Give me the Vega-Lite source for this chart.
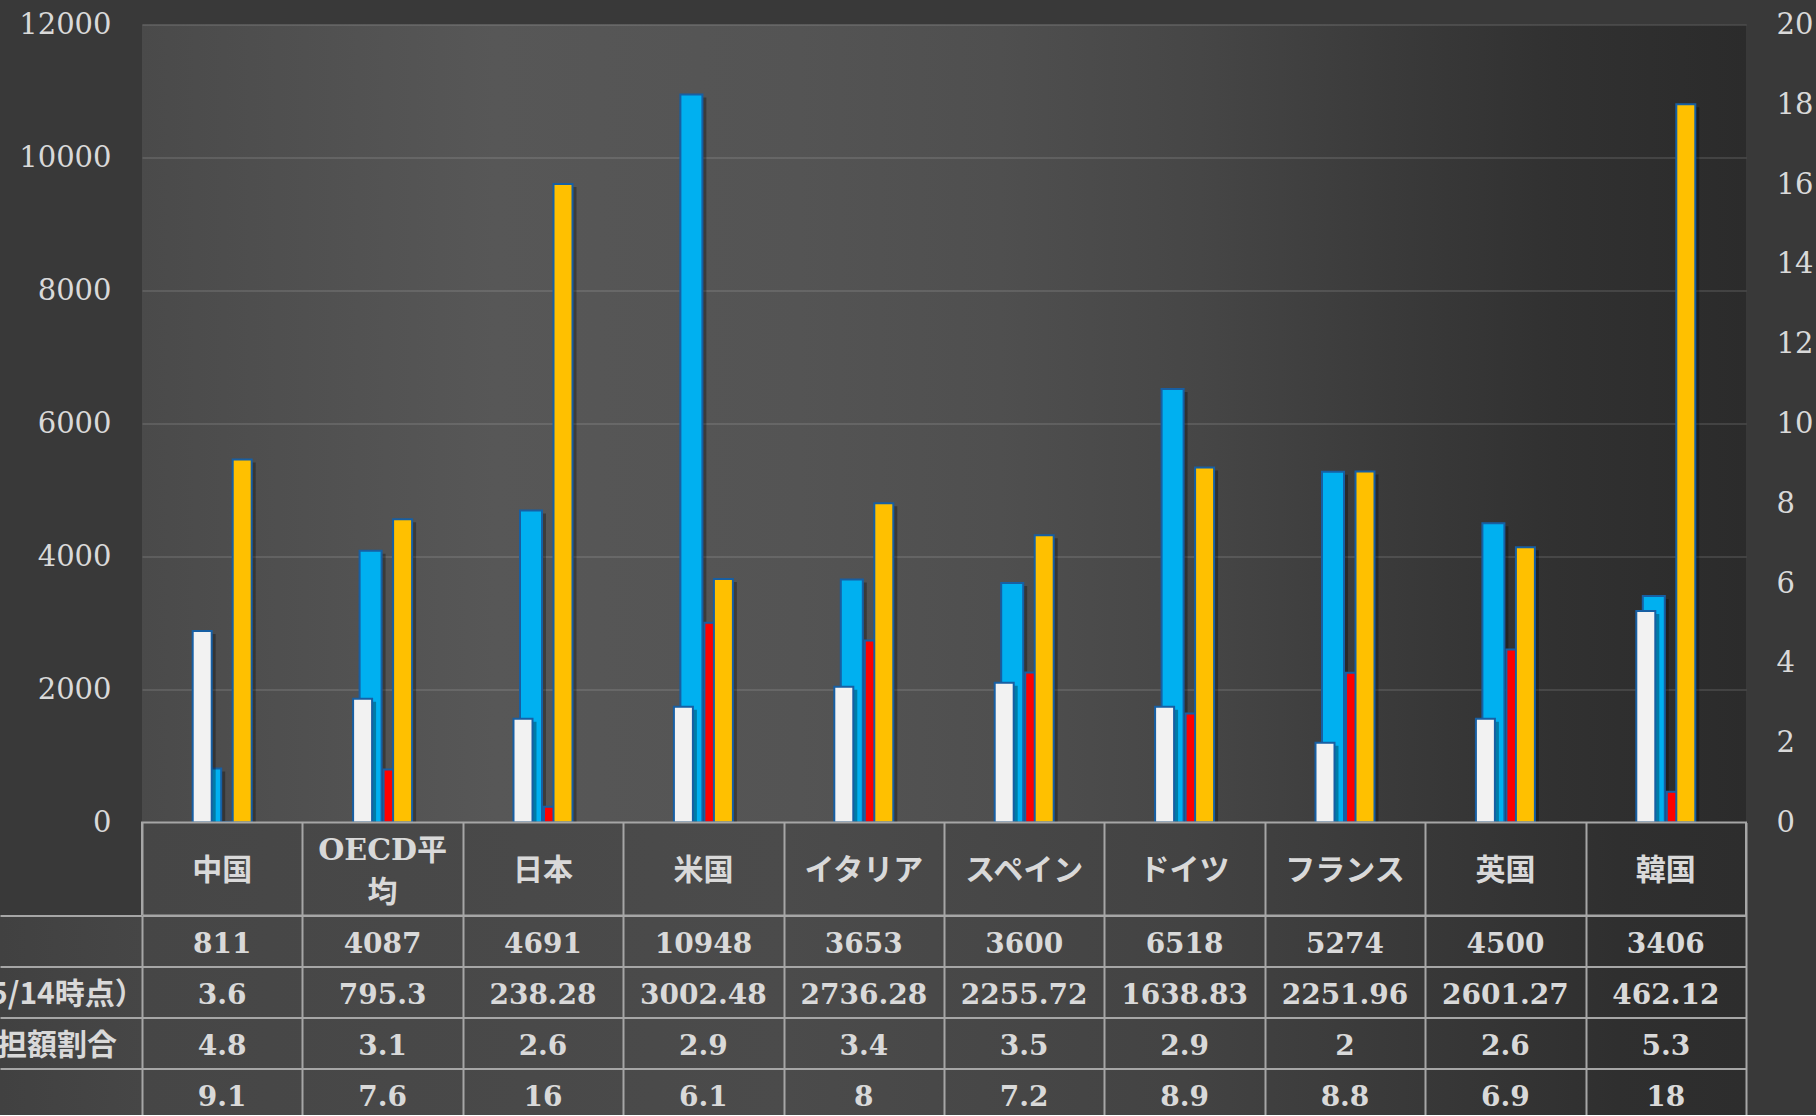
{
  "$schema": "https://vega.github.io/schema/vega-lite/v6.json",
  "autosize": {"type": "pad"},
  "padding": {"left": 0, "top": 10.5, "right": 3, "bottom": -5},
  "background": "#393939",
  "spacing": 0,
  "bounds": "flush",
  "columns": 2,
  "config": {
    "font": "DejaVu Serif",
    "view": {"stroke": null},
    "axis": {"labelFont": "DejaVu Serif", "labelColor": "#d9d9d9", "titleColor": "#d9d9d9"}
  },
  "datasets": {
    "t": [
      {"cat": "中国", "spend": 811, "deaths": 3.6, "burden": 4.8, "visits": 9.1},
      {"cat": "OECD平均", "spend": 4087, "deaths": 795.3, "burden": 3.1, "visits": 7.6},
      {"cat": "日本", "spend": 4691, "deaths": 238.28, "burden": 2.6, "visits": 16},
      {"cat": "米国", "spend": 10948, "deaths": 3002.48, "burden": 2.9, "visits": 6.1},
      {"cat": "イタリア", "spend": 3653, "deaths": 2736.28, "burden": 3.4, "visits": 8},
      {"cat": "スペイン", "spend": 3600, "deaths": 2255.72, "burden": 3.5, "visits": 7.2},
      {"cat": "ドイツ", "spend": 6518, "deaths": 1638.83, "burden": 2.9, "visits": 8.9},
      {"cat": "フランス", "spend": 5274, "deaths": 2251.96, "burden": 2, "visits": 8.8},
      {"cat": "英国", "spend": 4500, "deaths": 2601.27, "burden": 2.6, "visits": 6.9},
      {"cat": "韓国", "spend": 3406, "deaths": 462.12, "burden": 5.3, "visits": 18}
    ],
    "rows": [
      {"row": "spend", "label": "1人当たり医療費（ドル）"},
      {"row": "deaths", "label": "100万人当たり死者数（5/14時点）"},
      {"row": "burden", "label": "家計に占める医療費の負担額割合"},
      {"row": "visits", "label": "1人当たり年間受診回数"}
    ]
  },
  "data": {"name": "t"},
  "concat": [
    {
      "width": 142, "height": 798,
      "data": {"values": [{"s": ""}]},
      "mark": {"type": "text"},
      "encoding": {"text": {"field": "s", "type": "nominal"}}
    },
    {
      "width": 1604,
      "height": 798,
      "view": {
        "stroke": null,
        "fill": {
          "gradient": "linear", "x1": 0, "y1": 0, "x2": 1, "y2": 0,
          "stops": [
            {"offset": 0, "color": "#4a4a4a"},
            {"offset": 0.22, "color": "#575757"},
            {"offset": 0.41, "color": "#545454"},
            {"offset": 0.535, "color": "#4f4f4f"},
            {"offset": 0.66, "color": "#464646"},
            {"offset": 0.78, "color": "#3a3a3a"},
            {"offset": 0.88, "color": "#313131"},
            {"offset": 1, "color": "#2b2b2b"}
          ]
        }
      },
      "encoding": {
        "x": {"field": "cat", "type": "nominal", "axis": null,
              "sort": ["中国", "OECD平均", "日本", "米国", "イタリア", "スペイン", "ドイツ", "フランス", "英国", "韓国"],
              "scale": {"paddingInner": 0, "paddingOuter": 0}}
      },
      "layer": [
        {
          "mark": {"type": "bar", "width": 24, "xOffset": -9, "yOffset": 3, "fill": "#000000", "opacity": 0.3},
          "encoding": {"y": {"field": "spend", "type": "quantitative", "scale": {"domain": [0, 12000], "nice": false}, "axis": null}}
        },
        {
          "mark": {"type": "bar", "width": 24, "xOffset": 15, "yOffset": 3, "fill": "#000000", "opacity": 0.3},
          "encoding": {"y": {"field": "deaths", "type": "quantitative", "scale": {"domain": [0, 12000], "nice": false}, "axis": null}}
        },
        {
          "mark": {"type": "bar", "width": 22, "xOffset": -12, "fill": "#00B0F0", "stroke": "#175fa3", "strokeWidth": 2},
          "encoding": {"y": {"field": "spend", "type": "quantitative", "scale": {"domain": [0, 12000], "nice": false},
            "axis": {"orient": "left", "title": null, "values": [0, 2000, 4000, 6000, 8000, 10000, 12000], "format": "d",
                     "grid": true, "gridColor": "#ffffff", "gridOpacity": 0.11, "gridWidth": 2,
                     "domain": false, "ticks": false, "labelPadding": 31, "labelFontSize": 29,
                     "labelColor": "#d9d9d9", "labelFont": "DejaVu Serif"}}}
        },
        {
          "mark": {"type": "bar", "width": 22, "xOffset": 12, "fill": "#FF0000", "stroke": "#175fa3", "strokeWidth": 2},
          "encoding": {"y": {"field": "deaths", "type": "quantitative", "scale": {"domain": [0, 12000], "nice": false}, "axis": null}}
        },
        {
          "mark": {"type": "bar", "width": 21, "xOffset": -17, "yOffset": 3, "fill": "#000000", "opacity": 0.3},
          "encoding": {"y": {"field": "burden", "type": "quantitative", "scale": {"domain": [0, 20], "nice": false}, "axis": null}}
        },
        {
          "mark": {"type": "bar", "width": 21, "xOffset": 23, "yOffset": 3, "fill": "#000000", "opacity": 0.3},
          "encoding": {"y": {"field": "visits", "type": "quantitative", "scale": {"domain": [0, 20], "nice": false}, "axis": null}}
        },
        {
          "mark": {"type": "bar", "width": 19, "xOffset": -20, "fill": "#F2F2F2", "stroke": "#175fa3", "strokeWidth": 2},
          "encoding": {"y": {"field": "burden", "type": "quantitative", "scale": {"domain": [0, 20], "nice": false},
            "axis": {"orient": "right", "title": null, "values": [0, 2, 4, 6, 8, 10, 12, 14, 16, 18, 20], "format": "d",
                     "grid": false, "domain": false, "ticks": false, "labelPadding": 30, "labelFontSize": 29,
                     "labelColor": "#d9d9d9", "labelFont": "DejaVu Serif"}}}
        },
        {
          "mark": {"type": "bar", "width": 19, "xOffset": 20, "fill": "#FFC000", "stroke": "#175fa3", "strokeWidth": 2},
          "encoding": {"y": {"field": "visits", "type": "quantitative", "scale": {"domain": [0, 20], "nice": false}, "axis": null}}
        }
      ],
      "resolve": {"scale": {"y": "independent"}, "axis": {"y": "independent"}}
    },
    {
      "width": 142, "height": 93,
      "data": {"values": [{"s": ""}]},
      "mark": {"type": "text"},
      "encoding": {"text": {"field": "s", "type": "nominal"}}
    },
    {
      "width": 1604,
      "height": 93,
      "view": {
        "stroke": "#a6a6a6",
        "strokeWidth": 2,
        "fill": {
          "gradient": "linear", "x1": 0, "y1": 0, "x2": 1, "y2": 0,
          "stops": [
            {"offset": 0, "color": "#464646"},
            {"offset": 0.4, "color": "#4b4b4b"},
            {"offset": 0.65, "color": "#434343"},
            {"offset": 0.8, "color": "#383838"},
            {"offset": 0.92, "color": "#2f2f2f"},
            {"offset": 1, "color": "#2d2d2d"}
          ]
        }
      },
      "encoding": {
        "x": {"field": "cat", "type": "nominal",
              "sort": ["中国", "OECD平均", "日本", "米国", "イタリア", "スペイン", "ドイツ", "フランス", "英国", "韓国"],
              "scale": {"paddingInner": 0, "paddingOuter": 0,
                        "domain": ["中国", "OECD平均", "日本", "米国", "イタリア", "スペイン", "ドイツ", "フランス", "英国", "韓国"]},
              "axis": {"title": null, "labels": false, "ticks": false, "domain": false, "grid": true,
                       "tickBand": "extent", "gridColor": "#a6a6a6", "gridWidth": 2, "gridOpacity": 1}}
      },
      "layer": [
        {
          "transform": [{"filter": "datum.cat !== 'OECD平均'"}],
          "mark": {"type": "text", "font": "DejaVu Serif, Noto Sans CJK JP", "fontWeight": "bold", "fontSize": 30,
                   "color": "#d9d9d9", "baseline": "middle", "align": "center", "dy": 2},
          "encoding": {"text": {"field": "cat", "type": "nominal"}}
        },
        {
          "transform": [{"filter": "datum.cat === 'OECD平均'"}],
          "mark": {"type": "text", "font": "DejaVu Serif, Noto Sans CJK JP", "fontWeight": "bold", "fontSize": 30,
                   "color": "#d9d9d9", "baseline": "middle", "align": "center", "lineHeight": 42, "dy": -18},
          "encoding": {"text": {"value": ["OECD平", "均"]}}
        }
      ]
    },
    {
      "width": 142,
      "height": 204,
      "data": {"name": "rows"},
      "view": {
        "stroke": null,
        "fill": {
          "gradient": "linear", "x1": 0, "y1": 0, "x2": 1, "y2": 0,
          "stops": [
            {"offset": 0, "color": "#414141"},
            {"offset": 1, "color": "#464646"}
          ]
        }
      },
      "mark": {"type": "text", "clip": true, "align": "left", "baseline": "middle", "dx": -404, "dy": 3,
               "font": "Noto Sans CJK JP", "fontWeight": "bold", "fontSize": 30, "color": "#d9d9d9"},
      "encoding": {
        "y": {"field": "row", "type": "nominal", "sort": ["spend", "deaths", "burden", "visits"],
              "scale": {"paddingInner": 0, "paddingOuter": 0},
              "axis": {"title": null, "labels": false, "ticks": false, "domain": false, "grid": true,
                       "tickBand": "extent", "gridColor": "#a6a6a6", "gridWidth": 2, "gridOpacity": 1}},
        "text": {"field": "label", "type": "nominal"}
      }
    },
    {
      "width": 1604,
      "height": 204,
      "view": {
        "stroke": null,
        "fill": {
          "gradient": "linear", "x1": 0, "y1": 0, "x2": 1, "y2": 0,
          "stops": [
            {"offset": 0, "color": "#464646"},
            {"offset": 0.4, "color": "#4b4b4b"},
            {"offset": 0.65, "color": "#434343"},
            {"offset": 0.8, "color": "#383838"},
            {"offset": 0.92, "color": "#2f2f2f"},
            {"offset": 1, "color": "#2d2d2d"}
          ]
        }
      },
      "transform": [{"fold": ["spend", "deaths", "burden", "visits"], "as": ["row", "val"]}],
      "mark": {"type": "text", "font": "DejaVu Serif", "fontWeight": "bold", "fontSize": 28,
               "color": "#d9d9d9", "baseline": "middle", "align": "center", "dy": 4},
      "encoding": {
        "x": {"field": "cat", "type": "nominal",
              "sort": ["中国", "OECD平均", "日本", "米国", "イタリア", "スペイン", "ドイツ", "フランス", "英国", "韓国"],
              "scale": {"paddingInner": 0, "paddingOuter": 0},
              "axis": {"title": null, "labels": false, "ticks": false, "domain": false, "grid": true,
                       "tickBand": "extent", "gridColor": "#a6a6a6", "gridWidth": 2, "gridOpacity": 1}},
        "y": {"field": "row", "type": "nominal", "sort": ["spend", "deaths", "burden", "visits"],
              "scale": {"paddingInner": 0, "paddingOuter": 0},
              "axis": {"title": null, "labels": false, "ticks": false, "domain": false, "grid": true,
                       "tickBand": "extent", "gridColor": "#a6a6a6", "gridWidth": 2, "gridOpacity": 1}},
        "text": {"field": "val", "type": "nominal"}
      }
    }
  ]
}
